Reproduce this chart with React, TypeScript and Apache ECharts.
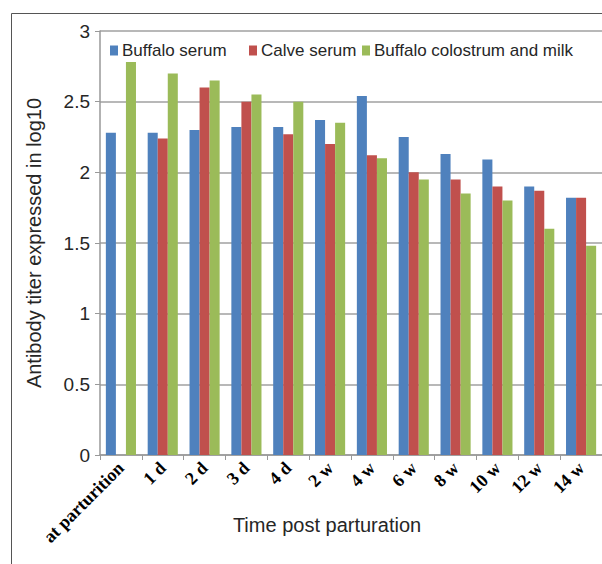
import React, { useEffect, useRef } from "react";
import * as echarts from "echarts";

const categories = ["at parturition", "1 d", "2 d", "3 d", "4 d", "2 w", "4 w", "6 w", "8 w", "10 w", "12 w", "14 w"];
const buffaloSerum = [2.28, 2.28, 2.30, 2.32, 2.32, 2.37, 2.54, 2.25, 2.13, 2.09, 1.90, 1.82];
const calveSerum = [null, 2.24, 2.60, 2.50, 2.27, 2.20, 2.12, 2.00, 1.95, 1.90, 1.87, 1.82];
const colostrumMilk = [2.78, 2.70, 2.65, 2.55, 2.50, 2.35, 2.10, 1.95, 1.85, 1.80, 1.60, 1.48];
const seriesNames = ["Buffalo serum", "Calve serum", "Buffalo colostrum and milk"];
const colors = ["#4F81BD", "#C0504D", "#9BBB59"];
const legendLefts = [110, 249, 362];

export default function App() {
  const ref = useRef<HTMLDivElement>(null);
  useEffect(() => {
    if (!ref.current) return;
    const chart = echarts.init(ref.current, null, { renderer: "svg" });
    const sans = "'Liberation Sans', Arial, sans-serif";
    chart.setOption({
      animation: false,
      backgroundColor: "#ffffff",
      grid: { left: 100, top: 31, bottom: 109, right: -6, containLabel: false },
      legend: seriesNames.map((n, i) => ({
        top: 42,
        left: legendLefts[i],
        padding: 0,
        itemWidth: 8,
        itemHeight: 10,
        itemGap: 4,
        icon: "rect",
        textStyle: { fontFamily: sans, fontSize: 17, color: "#262626", padding: [0, 0, 0, -1] },
        data: [n],
      })),
      xAxis: {
        type: "category",
        data: categories,
        axisLine: { lineStyle: { color: "#999999", width: 1.5 } },
        axisTick: { show: true, length: 5, lineStyle: { color: "#999999" } },
        axisLabel: {
          rotate: 45,
          interval: 0,
          margin: 10,
          fontFamily: "'Liberation Serif', 'Times New Roman', serif",
          fontWeight: "bold",
          fontSize: 18,
          color: "#000000",
        },
      },
      yAxis: {
        type: "value",
        min: 0,
        max: 3,
        interval: 0.5,
        name: "Antibody titer expressed in log10",
        nameLocation: "middle",
        nameGap: 56,
        nameTextStyle: { fontFamily: sans, fontSize: 20, color: "#262626" },
        axisLine: { show: true, lineStyle: { color: "#999999", width: 1.5 } },
        axisTick: { show: true, length: 5, lineStyle: { color: "#999999" } },
        axisLabel: { fontFamily: sans, fontSize: 19, color: "#262626", margin: 10 },
        splitLine: { lineStyle: { color: "#a0a0a0", width: 1.5 } },
      },
      graphic: [
        {
          type: "rect",
          shape: { x: 11.5, y: 13.5, width: 620, height: 600 },
          style: { fill: "none", stroke: "#555555", lineWidth: 1 },
          silent: true,
        },
        {
          type: "text",
          x: 327,
          y: 525,
          style: {
            text: "Time post parturation",
            fontFamily: sans,
            fontSize: 20,
            fill: "#262626",
            textAlign: "center",
            textVerticalAlign: "middle",
          },
        },
      ],
      series: [
        { name: seriesNames[0], type: "bar", data: buffaloSerum, itemStyle: { color: colors[0] }, barGap: "0%", barCategoryGap: "28%" },
        { name: seriesNames[1], type: "bar", data: calveSerum, itemStyle: { color: colors[1] }, barGap: "0%", barCategoryGap: "28%" },
        { name: seriesNames[2], type: "bar", data: colostrumMilk, itemStyle: { color: colors[2] }, barGap: "0%", barCategoryGap: "28%" },
      ],
    });
    return () => chart.dispose();
  }, []);
  return <div ref={ref} style={{ position: "fixed", left: 0, top: 0, width: 602, height: 564 }} />;
}
